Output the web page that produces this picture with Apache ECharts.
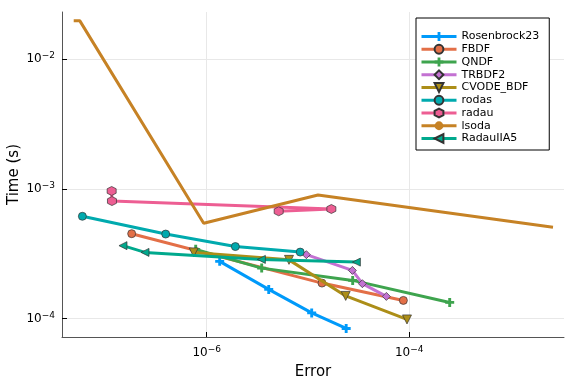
<!DOCTYPE html>
<html>
<head>
<meta charset="utf-8">
<script src="https://cdn.jsdelivr.net/npm/echarts@6/dist/echarts.min.js"></script>
<style>html,body{margin:0;padding:0;background:#fff;}#c{width:576px;height:384px;}</style>
</head>
<body>
<div id="c"></div>
<script>
// ---- data (error, time) ----
const seriesNames = ['Rosenbrock23','FBDF','QNDF','TRBDF2','CVODE_BDF','rodas','radau','lsoda','RadauIIA5'];
const rosenbrock23Err  = [1.344e-6, 4.10e-6, 1.089e-5, 2.386e-5];
const rosenbrock23Time = [2.76e-4, 1.678e-4, 1.106e-4, 8.39e-5];
const fbdfErr  = [1.816e-7, 1.376e-5, 8.76e-5];
const fbdfTime = [4.51e-4, 1.877e-4, 1.380e-4];
const qndfErr  = [7.79e-7, 3.493e-6, 2.767e-5, 2.512e-4];
const qndfTime = [3.415e-4, 2.448e-4, 1.969e-4, 1.332e-4];
const trbdf2Err  = [9.65e-6, 2.748e-5, 3.45e-5, 5.95e-5];
const trbdf2Time = [3.108e-4, 2.351e-4, 1.857e-4, 1.482e-4];
const cvodeErr  = [7.44e-7, 6.50e-6, 2.36e-5, 9.51e-5];
const cvodeTime = [3.236e-4, 2.834e-4, 1.495e-4, 9.85e-5];
const rodasErr  = [5.92e-8, 3.936e-7, 1.92e-6, 8.39e-6];
const rodasTime = [6.14e-4, 4.48e-4, 3.589e-4, 3.254e-4];
const radauErr  = [1.152e-7, 1.16e-7, 1.704e-5, 5.14e-6];
const radauTime = [9.62e-4, 8.05e-4, 6.99e-4, 6.71e-4];
const lsodaErr  = [4.86e-8, 5.57e-8, 9.34e-7, 1.257e-5, 2.632e-3];
const lsodaTime = [1.976e-2, 1.976e-2, 5.42e-4, 8.96e-4, 5.05e-4];
const radauIIA5Err  = [1.49e-7, 2.459e-7, 3.469e-6, 3.01e-5];
const radauIIA5Time = [3.647e-4, 3.236e-4, 2.858e-4, 2.724e-4];
const xTicks = [1e-6, 1e-4];
const yTicks = [1e-4, 1e-3, 1e-2];

const errs  = [rosenbrock23Err, fbdfErr, qndfErr, trbdf2Err, cvodeErr, rodasErr, radauErr, lsodaErr, radauIIA5Err];
const times = [rosenbrock23Time, fbdfTime, qndfTime, trbdf2Time, cvodeTime, rodasTime, radauTime, lsodaTime, radauIIA5Time];

// ---- styling ----
const colors = ['#009AFA','#E36F47','#3EA44E','#C371D2','#AC8E18','#00AAAE','#ED5E93','#C68225','#00A98D'];
const PLUS = 'path://M3.4,0H6.6V3.4H10V6.6H6.6V10H3.4V6.6H0V3.4H3.4Z';
const HEX = 'path://M0,-1L0.866,-0.5L0.866,0.5L0,1L-0.866,0.5L-0.866,-0.5Z';
const DTRI = 'path://M-1,-0.9L1,-0.9L0,0.9Z';
const LTRI = 'path://M-0.9,0L0.9,-1L0.9,1Z';
const symbols = [PLUS,'circle',PLUS,'diamond',DTRI,'circle',HEX,'none',LTRI];
const sizes = [9,8,9,8,9,8,9,0,8];
const bordered = [false,true,false,true,true,true,true,false,true];

function fmt(v){
  const e = Math.round(Math.log10(v));
  return '10{sup|' + (e < 0 ? '\u2212' + (-e) : e) + '}';
}
const labelRich = {sup:{fontSize:9, verticalAlign:'top', padding:[0,0,6,0], color:'#000', fontFamily:'DejaVu Sans'}};

const series = seriesNames.map((name, i) => ({
  name: name,
  type: 'line',
  data: errs[i].map((e, j) => [e, times[i][j]]),
  symbol: symbols[i],
  symbolSize: sizes[i],
  showSymbol: symbols[i] !== 'none',
  lineStyle: {width: 3, color: colors[i]},
  itemStyle: {color: colors[i], borderColor: bordered[i] ? '#333' : colors[i], borderWidth: bordered[i] ? 0.7 : 0},
  z: 2 + i,
  animation: false
}));

const chart = echarts.init(document.getElementById('c'), null, {renderer: 'canvas'});
chart.setOption({
  animation: false,
  backgroundColor: '#fff',
  textStyle: {fontFamily: 'DejaVu Sans'},
  color: colors,
  grid: {left: 62, right: 12, top: 12, bottom: 47, containLabel: false, outerBoundsMode: 'none'},
  xAxis: {
    type: 'log',
    min: Math.pow(10, -7.429), max: Math.pow(10, -2.471),
    name: 'Error', nameLocation: 'middle', nameGap: 28, nameMoveOverlap: false,
    nameTextStyle: {fontSize: 15, color: '#000', fontFamily: 'DejaVu Sans'},
    axisLine: {lineStyle: {color: '#555', width: 1}},
    axisTick: {inside: true, length: 5, customValues: xTicks, lineStyle: {color: '#000'}},
    axisLabel: {customValues: xTicks, formatter: fmt, rich: labelRich, fontSize: 12, color: '#000', margin: 8, fontFamily: 'DejaVu Sans'},
    splitLine: {show: true, lineStyle: {color: '#e8e8e8', width: 1}},
    minorTick: {show: false}
  },
  yAxis: {
    type: 'log',
    min: Math.pow(10, -4.142), max: Math.pow(10, -1.6375),
    name: 'Time (s)', nameLocation: 'middle', nameGap: 40, nameMoveOverlap: false,
    nameTextStyle: {fontSize: 15, color: '#000', fontFamily: 'DejaVu Sans'},
    axisLine: {show: true, lineStyle: {color: '#555', width: 1}},
    axisTick: {show: true, inside: true, length: 5, customValues: yTicks, lineStyle: {color: '#000'}},
    axisLabel: {customValues: yTicks, formatter: fmt, rich: labelRich, fontSize: 12, color: '#000', margin: 7, fontFamily: 'DejaVu Sans'},
    splitLine: {show: true, lineStyle: {color: '#e8e8e8', width: 1}}
  },
  legend: {
    orient: 'vertical',
    left: 416, top: 18,
    padding: [13, 10, 6, 4],
    itemWidth: 35, itemHeight: 11, itemGap: 1.75,
    borderColor: '#000', borderWidth: 1, borderRadius: 0,
    backgroundColor: '#fff',
    textStyle: {fontSize: 11, color: '#000', fontFamily: 'DejaVu Sans'},
    lineStyle: {width: 3},
    data: seriesNames
  },
  series: series
});
</script>
</body>
</html>
